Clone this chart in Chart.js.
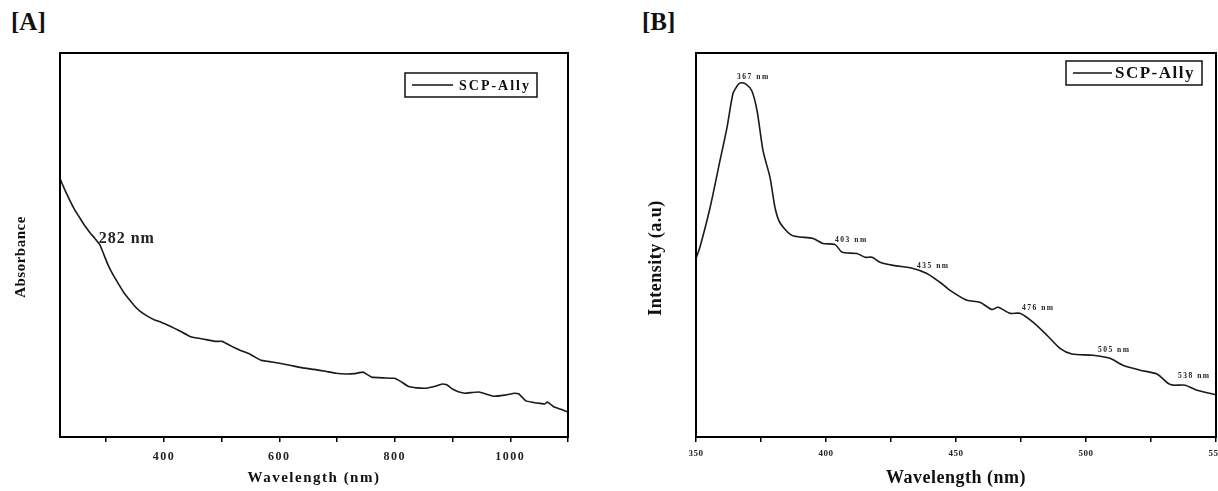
<!DOCTYPE html>
<html>
<head>
<meta charset="utf-8">
<script src="https://cdn.jsdelivr.net/npm/chart.js@4.4.1/dist/chart.umd.min.js"></script>
<style>
  html, body { margin: 0; padding: 0; background: #fff; overflow: hidden; width: 1218px; height: 491px; }
  #wrapA { position: absolute; left: 0; top: 0; width: 600px; height: 491px; }
  #wrapB { position: absolute; left: 600px; top: 0; width: 630px; height: 491px; }
  .tag { position: absolute; top: 8px; font-family: 'Liberation Serif', 'Times New Roman', serif; font-weight: bold; font-size: 25px; color: #111; }
</style>
</head>
<body>
<div class="tag" style="left:11px;">[A]</div>
<div class="tag" style="left:642px;">[B]</div>
<div id="wrapA"><canvas id="chartA" width="600" height="491"></canvas></div>
<div id="wrapB"><canvas id="chartB" width="630" height="491"></canvas></div>
<script>
// ---------- Panel A: UV-Vis absorbance ----------
const wavelengthA = [220,228,237,246,255,263,272,280,289,296,303,312,322,331,341,350,359,372,385,395,410,425,445,460,475,490,501,515,532,550,560,568,580,600,618,640,660,680,698,715,730,745,752,760,780,799,810,823,838,854,870,882,890,900,910,922,935,946,958,972,990,1008,1015,1027,1040,1050,1060,1064,1070,1076,1088,1100];
const absorbanceA = [67.3,64.5,61.6,59.0,56.9,55.0,53.2,51.8,50.1,47.5,44.9,42.2,39.7,37.5,35.6,34.0,32.7,31.4,30.4,29.9,28.9,27.8,26.2,25.7,25.3,24.9,24.9,23.8,22.6,21.5,20.6,20.0,19.7,19.2,18.7,18.0,17.6,17.1,16.6,16.4,16.5,16.9,16.3,15.6,15.4,15.3,14.5,13.2,12.8,12.7,13.2,13.8,13.6,12.5,11.8,11.4,11.6,11.7,11.2,10.6,10.9,11.4,11.2,9.4,9.0,8.8,8.6,9.1,8.5,7.8,7.2,6.5];
const annotTextA = ['282 nm'];
const annotXA = [287];
const annotYA = [51.7];
const majorTicksA = [400, 600, 800, 1000];

// ---------- Panel B: fluorescence intensity ----------
const wavelengthB = [350,351.5,355.4,359.2,361.9,364.2,365.8,366.9,369.2,371.5,373.5,375.8,378.5,380.4,382.3,386.9,395,398.8,403.5,406.2,411.9,415,417.7,420.8,425.8,433.5,438.8,443.8,447.7,454.2,459.2,463.8,466.2,470.8,474.6,479.6,485,490,494.6,502.7,509.2,514.2,520.8,527.3,531.5,533.5,538.1,542.7,550];
const intensityB = [46.5,49.4,59.7,71.9,80.5,89.4,91.4,92.2,91.9,90.1,84.9,74.5,67.5,59.7,55.8,52.5,51.7,50.4,50.1,48.1,47.8,46.8,46.8,45.5,44.7,43.9,42.6,40.3,38.2,35.6,35.1,33.2,33.8,32.2,32.2,29.9,26.5,23.1,21.6,21.3,20.5,18.7,17.4,16.4,14.0,13.5,13.5,12.2,11.0];
const annotTextB = ['367 nm','403 nm','435 nm','476 nm','505 nm','538 nm'];
const annotXB = [365.8, 403.5, 435, 475.4, 504.6, 535.4];
const annotYB = [93.8, 51.2, 44.4, 33.5, 22.6, 15.8];
const majorTicksB = [350, 400, 450, 500, 550];

const seriesName = 'SCP-Ally';
const SERIF = "'Liberation Serif', 'Times New Roman', serif";

function toPoints(xs, ys) { return xs.map((x, i) => ({ x: x, y: ys[i] })); }

function makePlugin(cfg) {
  return {
    id: 'decor' + cfg.key,
    beforeDraw(chart) {
      chart.ctx.letterSpacing = cfg.spacing;
    },
    afterDraw(chart) {
      const { ctx, chartArea: a, scales } = chart;
      ctx.save();
      // frame
      ctx.strokeStyle = '#000';
      ctx.lineWidth = 2;
      ctx.strokeRect(a.left, a.top, a.right - a.left, a.bottom - a.top);
      // y-axis title (rotated)
      ctx.save();
      ctx.translate(cfg.yTitleX, cfg.yTitleY);
      ctx.rotate(-Math.PI / 2);
      ctx.font = 'bold ' + cfg.yTitleSize + 'px ' + SERIF;
      ctx.letterSpacing = cfg.yTitleSpacing;
      ctx.fillStyle = '#111';
      ctx.textAlign = 'center';
      ctx.textBaseline = 'middle';
      ctx.fillText(cfg.yTitle, 0, 0);
      ctx.restore();
      // annotations
      ctx.fillStyle = '#222';
      ctx.font = 'bold ' + cfg.annotSize + 'px ' + SERIF;
      ctx.letterSpacing = cfg.annotSpacing;
      ctx.textBaseline = 'middle';
      ctx.textAlign = 'left';
      cfg.annotText.forEach((t, i) => {
        ctx.fillText(t, scales.x.getPixelForValue(cfg.annotX[i]), scales.y.getPixelForValue(cfg.annotY[i]));
      });
      // legend box
      const L = cfg.legend;
      const bx = a.right - L.right - L.w, by = a.top + L.top;
      ctx.lineWidth = 1.5;
      ctx.strokeStyle = '#111';
      ctx.strokeRect(bx, by, L.w, L.h);
      ctx.lineWidth = 1.4;
      ctx.beginPath();
      ctx.moveTo(bx + L.lineStart, by + L.h / 2);
      ctx.lineTo(bx + L.lineEnd, by + L.h / 2);
      ctx.stroke();
      ctx.font = 'bold ' + L.font + 'px ' + SERIF;
      ctx.letterSpacing = L.spacing;
      ctx.fillStyle = '#111';
      ctx.fillText(seriesName, bx + L.textX, by + L.h / 2 + 1);
      ctx.restore();
    }
  };
}

function makeChart(id, cfg) {
  return new Chart(document.getElementById(id), {
    type: 'line',
    data: {
      datasets: [{
        label: seriesName,
        data: toPoints(cfg.xs, cfg.ys),
        borderColor: '#1a1a1a',
        borderWidth: 1.6,
        pointRadius: 0,
        tension: cfg.tension,
        fill: false
      }]
    },
    options: {
      responsive: false,
      animation: false,
      devicePixelRatio: 1,
      layout: { padding: { left: 0, top: 53, right: cfg.padRight, bottom: 0 } },
      plugins: { legend: { display: false }, tooltip: { enabled: false } },
      scales: {
        x: {
          type: 'linear',
          min: cfg.xmin, max: cfg.xmax,
          afterFit: s => { s.height = 54; },
          grid: { display: true, drawOnChartArea: false, drawTicks: true, tickLength: 5, color: '#000', lineWidth: 1.5 },
          border: { display: false },
          ticks: {
            stepSize: cfg.step, includeBounds: false, autoSkip: false, maxRotation: 0,
            padding: cfg.tickPad, color: '#222',
            font: { family: SERIF, weight: 'bold', size: cfg.tickSize },
            callback: v => cfg.majors.includes(v) ? String(v) : ''
          },
          title: {
            display: true, text: 'Wavelength (nm)', color: '#111',
            font: { family: SERIF, weight: 'bold', size: cfg.xTitleSize },
            padding: { top: 0, bottom: cfg.xTitlePad }
          }
        },
        y: {
          min: 0, max: 100,
          afterFit: s => { s.width = cfg.yWidth; },
          grid: { display: false },
          border: { display: false },
          ticks: { display: false },
          title: { display: false, text: cfg.yTitle }
        }
      }
    },
    plugins: [makePlugin(cfg)]
  });
}

makeChart('chartA', {
  key: 'A', xs: wavelengthA, ys: absorbanceA, tension: 0.1,
  xmin: 220, xmax: 1100, step: 100, majors: majorTicksA,
  padRight: 32, yWidth: 60, tickPad: 8, tickSize: 12,
  xTitleSize: 15, xTitlePad: 4,
  yTitle: 'Absorbance', yTitleSize: 15, yTitleSpacing: '0.5px', yTitleX: 21, yTitleY: 257,
  spacing: '1.5px', annotText: annotTextA, annotX: annotXA, annotY: annotYA,
  annotSize: 16, annotSpacing: '1px',
  legend: { right: 31, top: 20, w: 132, h: 24, lineStart: 7, lineEnd: 48, textX: 54, font: 14, spacing: '2px' }
});

makeChart('chartB', {
  key: 'B', xs: wavelengthB, ys: intensityB, tension: 0.25,
  xmin: 350, xmax: 550, step: 25, majors: majorTicksB,
  padRight: 14, yWidth: 96, tickPad: 6.5, tickSize: 9,
  xTitleSize: 18, xTitlePad: 2,
  yTitle: 'Intensity (a.u)', yTitleSize: 18, yTitleSpacing: '0.5px', yTitleX: 56, yTitleY: 258,
  spacing: '0.5px', annotText: annotTextB, annotX: annotXB, annotY: annotYB,
  annotSize: 7.5, annotSpacing: '1.5px',
  legend: { right: 14, top: 8, w: 136, h: 24, lineStart: 7, lineEnd: 46, textX: 49, font: 17, spacing: '1.5px' }
});
</script>
</body>
</html>
